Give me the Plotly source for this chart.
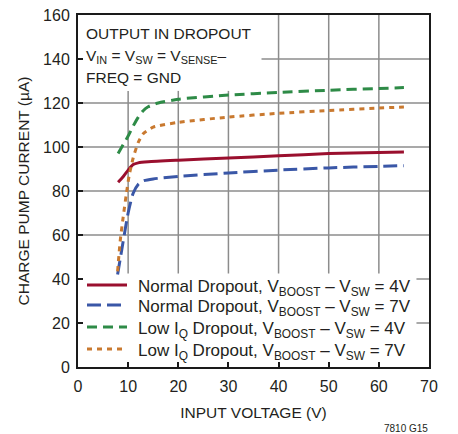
import plotly.graph_objects as go

# Data
red_x = [8, 9, 10, 11, 12, 14, 20, 30, 40, 50, 60, 65]
red_y = [84, 86.5, 89.5, 92, 92.8, 93.3, 94, 95, 96, 97, 97.5, 97.7]

blue_x = [7.9, 9, 10, 11, 12, 13, 15, 20, 30, 40, 50, 60, 65]
blue_y = [42, 57, 70, 79, 83, 84.6, 85.5, 86.6, 88.2, 89.5, 90.5, 91.2, 91.5]

green_x = [8, 9, 10, 11, 12, 13, 14, 16, 20, 30, 40, 50, 60, 65]
green_y = [97, 101, 105, 109.5, 113.5, 116.5, 118.3, 120, 121.7, 123.6, 124.8, 125.8, 126.6, 127]

orange_x = [7.9, 8.4, 9, 9.6, 10.2, 11, 12, 13, 15, 20, 30, 40, 50, 60, 65]
orange_y = [43.5, 57, 68, 78, 87, 95, 102, 106, 109, 111.2, 113.6, 115.3, 116.6, 117.7, 118.2]

names = [
    "Normal Dropout, V<sub>BOOST</sub> – V<sub>SW</sub> = 4V",
    "Normal Dropout, V<sub>BOOST</sub> – V<sub>SW</sub> = 7V",
    "Low I<sub>Q</sub> Dropout, V<sub>BOOST</sub> – V<sub>SW</sub> = 4V",
    "Low I<sub>Q</sub> Dropout, V<sub>BOOST</sub> – V<sub>SW</sub> = 7V",
]
colors = ["#9a0f2e", "#3a57a7", "#2e8b47", "#c9792f"]
dashes = ["solid", "14px,6px", "10px,6px", "5px,5px"]

x_grid = [10, 20, 30, 40, 50, 60]
y_grid = [20, 40, 60, 80, 100, 120, 140]

FONT = "Liberation Sans, Arial, sans-serif"
TXT = "#231f20"
GRID = "#8c8c8c"

L, R, T, B = 78, 29, 15, 67
W, H = 458, 434
PW, PH = W - L - R, H - T - B

# extents of the white panels (text block, legend) that hide the grid
TXT_X1, TXT_Y0 = 36.6, 125.5
LEG_X1, LEG_Y1 = 67.5, 42.5


def px_x(p):
    return (p - L) / PW


def px_y(p):
    return (H - B - p) / PH


fig = go.Figure()
for xs, ys, nm, c, d in zip([red_x, blue_x, green_x, orange_x],
                            [red_y, blue_y, green_y, orange_y],
                            names, colors, dashes):
    fig.add_trace(go.Scatter(x=xs, y=ys, mode="lines", name=nm, showlegend=False,
                             line=dict(color=c, width=3, dash=d, shape="spline", smoothing=0.6)))

fig.update_layout(
    width=W, height=H,
    margin=dict(l=L, r=R, t=T, b=B, autoexpand=False),
    paper_bgcolor="white", plot_bgcolor="white",
    font=dict(family=FONT, size=16, color=TXT),
    showlegend=False,
    xaxis=dict(range=[0, 70], dtick=10, tick0=0, showgrid=False,
               showline=True, linecolor="#1a1a1a", linewidth=2, mirror=True,
               ticks="inside", ticklen=5, tickwidth=1.5, tickcolor="#1a1a1a",
               zeroline=False, tickfont=dict(size=16), ticklabelstandoff=4, automargin=False,
               title=dict(text="INPUT VOLTAGE (V)", font=dict(size=15.5), standoff=13)),
    yaxis=dict(range=[0, 160], dtick=20, tick0=0, showgrid=False,
               showline=True, linecolor="#1a1a1a", linewidth=2, mirror=True,
               ticks="inside", ticklen=5, tickwidth=1.5, tickcolor="#1a1a1a",
               zeroline=False, tickfont=dict(size=16), ticklabelstandoff=3, automargin=False,
               title=dict(text="CHARGE PUMP CURRENT (µA)", font=dict(size=15.5), standoff=10)),
)

# grid lines, interrupted by the text block and the legend panel
for gx in x_grid:
    y0 = LEG_Y1 if gx <= LEG_X1 else 0
    y1 = TXT_Y0 if gx <= TXT_X1 else 160
    fig.add_shape(type="line", xref="x", yref="y", x0=gx, x1=gx, y0=y0, y1=y1,
                  line=dict(color=GRID, width=1.5), layer="below")
for gy in y_grid:
    x0 = 0
    if gy <= LEG_Y1:
        x0 = LEG_X1
    elif gy >= TXT_Y0:
        x0 = TXT_X1
    fig.add_shape(type="line", xref="x", yref="y", x0=x0, x1=70, y0=gy, y1=gy,
                  line=dict(color=GRID, width=1.5), layer="below")

# legend (samples + labels)
leg_y = [285, 305, 327, 349]
for nm, c, d, yp in zip(names, colors, dashes, leg_y):
    fig.add_shape(type="line", xref="paper", yref="paper", x0=px_x(87), x1=px_x(127),
                  y0=px_y(yp), y1=px_y(yp), line=dict(color=c, width=3, dash=d), layer="above")
    fig.add_annotation(text=nm, xref="paper", yref="paper", x=px_x(136), y=px_y(yp + 3),
                       xanchor="left", yanchor="middle", showarrow=False,
                       font=dict(family=FONT, size=17, color=TXT))

ann_lines = [
    ("OUTPUT IN DROPOUT", 33),
    ("V<sub>IN</sub> = V<sub>SW</sub> = V<sub>SENSE</sub>–", 57),
    ("FREQ = GND", 77),
]
for t, ypx in ann_lines:
    fig.add_annotation(text=t, xref="paper", yref="paper", x=px_x(84),
                       y=px_y(ypx), xanchor="left", yanchor="middle",
                       showarrow=False, font=dict(family=FONT, size=15.5, color=TXT))

fig.add_annotation(text="7810 G15", xref="paper", yref="paper", x=px_x(430), y=px_y(428),
                   xanchor="right", yanchor="middle", showarrow=False,
                   font=dict(family=FONT, size=10, color=TXT))

fig.write_html("out.html", config={"displayModeBar": False},
               post_script="document.body.style.margin='0px';")
